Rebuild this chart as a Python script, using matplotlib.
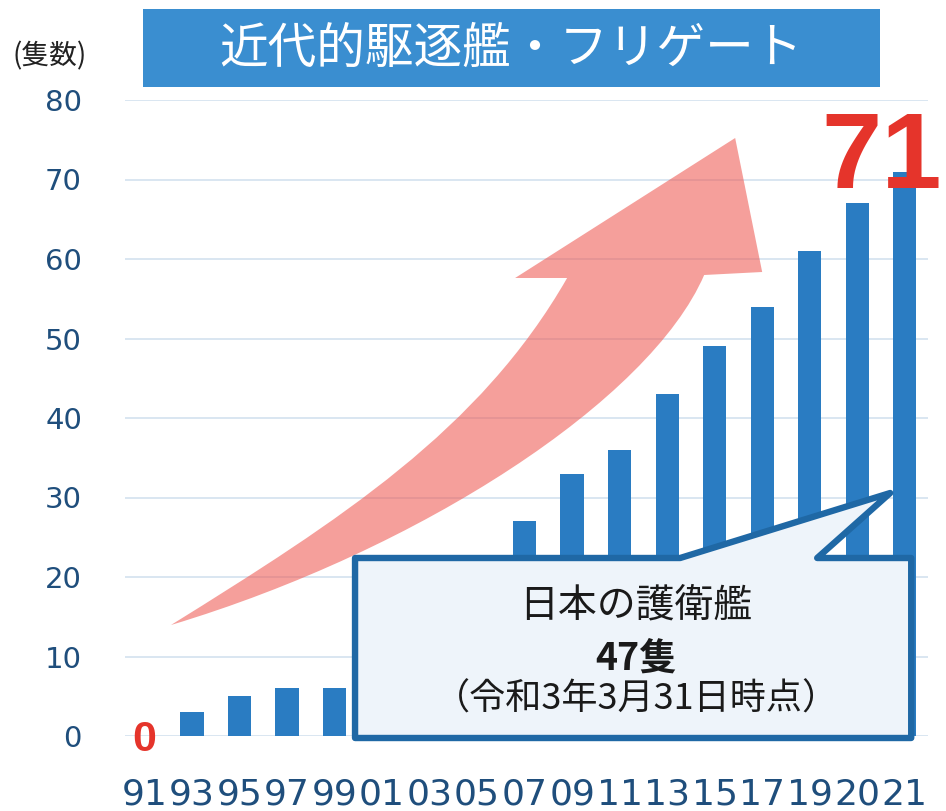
import matplotlib
matplotlib.use("Agg")
import matplotlib.pyplot as plt
from matplotlib.patches import Rectangle, Polygon, PathPatch
from matplotlib.path import Path
import numpy as np

# ---- data ----
years = ["91", "93", "95", "97", "99", "01", "03", "05", "07", "09",
         "11", "13", "15", "17", "19", "20", "21"]
ships = [0, 3, 5, 6, 6, 10, 14, 20, 27, 33, 36, 43, 49, 54, 61, 67, 71]
yticks = [0, 10, 20, 30, 40, 50, 60, 70, 80]
title = "近代的駆逐艦・フリゲート"
unit_label = "(隻数)"
callout_lines = ["日本の護衛艦", "47隻", "（令和3年3月31日時点）"]
last_label = "71"
first_label = "0"

# ---- styles ----
W, H = 946, 811
BAR = "#2a7cc2"
TITLE_BG = "#3a8ed0"
TICK_COL = "#1f4e7c"
GRID = "#d3e2ef"
RED = "#e5342b"
CJK = ["Noto Sans CJK JP", "DejaVu Sans"]
NARROW = ["Liberation Sans Narrow", "Liberation Sans", "DejaVu Sans"]

fig = plt.figure(figsize=(W / 100, H / 100), dpi=100)
fig.patch.set_facecolor("white")

ax_l, ax_r, ax_t, ax_b = 125, 928, 100, 736
ax = fig.add_axes([ax_l / W, 1 - ax_b / H, (ax_r - ax_l) / W, (ax_b - ax_t) / H])
x = np.arange(len(years))
ax.set_xlim(-0.41, 16.49)
ax.set_ylim(0, 80)

# grid
ax.set_yticks(yticks)
ax.yaxis.grid(True, color=GRID, lw=1.2, zorder=0)
ax.set_axisbelow(True)
for s in ax.spines.values():
    s.set_visible(False)

# bars
ax.bar(x, ships, width=0.49, color=BAR, zorder=2)

# ticks
ax.set_xticks(x)
ax.set_xticklabels(years)
ax.tick_params(axis="x", length=0, pad=30, labelsize=26, labelcolor=TICK_COL)
ax.tick_params(axis="y", length=0, pad=31, labelsize=21, labelcolor=TICK_COL)
for lab in ax.get_yticklabels() + ax.get_xticklabels():
    lab.set_fontfamily("DejaVu Sans")

# pink arrow (decoration) in pixel-like coordinates -> data
def px2d(px, py):
    return ((px - 144.5) / 47.5, (736 - py) / 7.95)

arrow_px = [
    ((171, 625), Path.MOVETO),
    ((340, 520), Path.CURVE4), ((480, 430), Path.CURVE4), ((567, 278), Path.CURVE4),
    ((515, 278), Path.LINETO),
    ((735, 138), Path.LINETO),
    ((762, 272), Path.LINETO),
    ((704, 275), Path.LINETO),
    ((650, 400), Path.CURVE4), ((420, 550), Path.CURVE4), ((171, 625), Path.CURVE4),
    ((171, 625), Path.CLOSEPOLY),
]
verts = [px2d(*p) for p, c in arrow_px]
codes = [c for p, c in arrow_px]
ax.add_patch(PathPatch(Path(verts, codes), facecolor="#ee5a53", alpha=0.58,
                       edgecolor="none", zorder=1, clip_on=False))

# callout
call_px = [(355, 558), (680, 558), (890, 493), (817, 558), (911, 558),
           (911, 738), (355, 738)]
ax.add_patch(Polygon([px2d(*p) for p in call_px], closed=True,
                     facecolor="#eef4fa", edgecolor="#1f68a5", lw=4.6,
                     joinstyle="round", zorder=3, clip_on=False))
cx, _ = px2d(636, 0)
ax.text(cx, px2d(0, 606)[1], callout_lines[0], ha="center", va="center",
        fontsize=28, family=CJK, color="#1a1a1a", zorder=4)
ax.text(cx, px2d(0, 658)[1], callout_lines[1], ha="center", va="center",
        fontsize=27, family=CJK, weight="bold", color="#1a1a1a", zorder=4)
ax.text(cx, px2d(0, 700)[1], callout_lines[2], ha="center", va="center",
        fontsize=26, family=CJK, color="#1a1a1a", zorder=4)

# red labels
ax.text(px2d(942, 0)[0], px2d(0, 188)[1], last_label, ha="right", va="baseline",
        fontsize=78, family=NARROW, weight="bold", color=RED, zorder=5,
        clip_on=False)
ax.text(x[0], px2d(0, 740)[1], first_label, ha="center", va="center",
        fontsize=31, family=NARROW, weight="bold", color=RED, zorder=5,
        clip_on=False)

# title box
fig.patches.append(Rectangle((143 / W, 1 - 87 / H), (880 - 143) / W, (87 - 9) / H,
                             transform=fig.transFigure, facecolor=TITLE_BG,
                             edgecolor="none", zorder=0))
fig.text(511 / W, 1 - 49 / H, title, ha="center", va="center", fontsize=35,
         family=CJK, color="white")
fig.text(50 / W, 1 - 56 / H, unit_label, ha="center", va="center", fontsize=20,
         family=CJK, color="#222222")

fig.savefig("out.png", dpi=100)
